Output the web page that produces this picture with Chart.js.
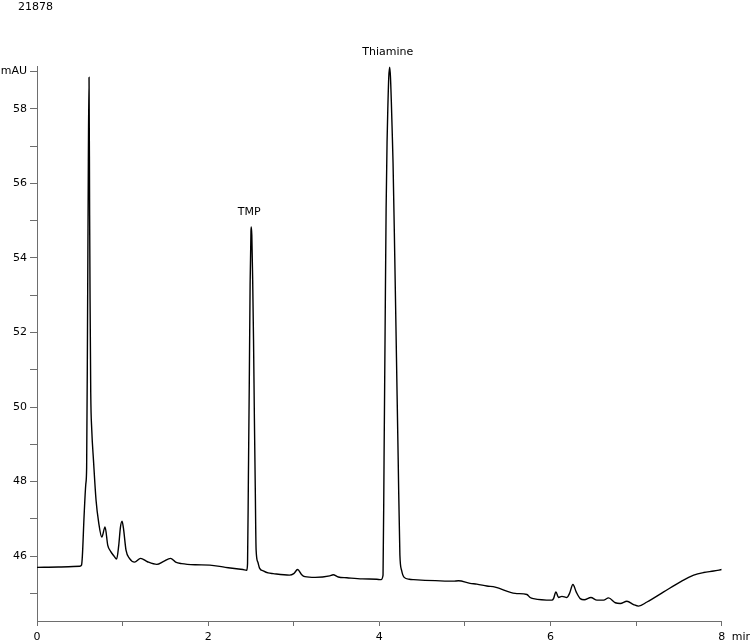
<!DOCTYPE html>
<html><head><meta charset="utf-8">
<script src="https://cdn.jsdelivr.net/npm/chart.js@4/dist/chart.umd.min.js"></script>
<style>html,body{margin:0;padding:0;background:#fff}canvas{display:block}</style>
</head><body>
<canvas id="c" width="750" height="643"></canvas>
<script>
const sampleId = '21878';
const timeMin = [
  0.00,0.25,0.50,0.52,0.53,0.55,0.57,0.58,0.59,0.60,0.608,0.615,0.62,0.628,0.64,0.66,0.69,0.72,0.757,0.795,
  0.827,0.86,0.90,0.93,0.955,0.975,0.994,1.01,1.04,1.08,1.14,1.21,1.29,1.40,1.48,1.56,1.62,1.69,1.85,2.02,
  2.20,2.406,2.45,2.46,2.47,2.48,2.49,2.50,2.503,2.51,2.52,2.53,2.54,2.55,2.56,2.58,2.60,2.65,2.70,2.76,
  2.95,3.00,3.045,3.09,3.13,3.25,3.42,3.46,3.52,3.62,3.80,3.97,4.02,4.043,4.055,4.067,4.079,4.09,4.10,4.11,
  4.121,4.13,4.14,4.15,4.16,4.18,4.20,4.22,4.24,4.26,4.29,4.35,4.40,4.865,4.924,5.06,5.139,5.256,5.353,5.587,
  5.724,5.762,5.801,6.016,6.035,6.063,6.094,6.133,6.192,6.222,6.262,6.30,6.347,6.394,6.472,6.543,6.62,6.678,6.757,6.815,
  6.893,6.971,7.029,7.127,7.322,7.517,7.673,7.789,7.906,8.00
];
const signalMAU = [
  45.70,45.71,45.73,45.76,46.00,47.07,47.93,48.38,52.06,56.60,58.85,55.14,52.90,50.37,49.38,48.57,47.50,46.91,46.51,46.78,
  46.29,46.13,46.00,45.92,46.29,46.78,46.94,46.75,46.16,45.94,45.84,45.94,45.85,45.78,45.86,45.94,45.84,45.80,45.77,45.76,
  45.70,45.64,45.62,45.80,48.13,50.55,53.30,54.70,54.83,54.60,53.40,51.80,49.70,47.88,46.17,45.84,45.68,45.60,45.55,45.53,
  45.49,45.53,45.64,45.51,45.45,45.43,45.47,45.50,45.44,45.42,45.39,45.38,45.37,45.49,48.60,52.00,55.30,57.10,58.10,58.85,
  59.12,58.85,58.20,57.40,56.55,54.04,51.33,48.60,46.03,45.62,45.43,45.38,45.37,45.33,45.34,45.27,45.25,45.20,45.17,45.00,
  44.97,44.89,44.86,44.82,44.86,45.04,44.89,44.92,44.89,45.00,45.24,45.04,44.86,44.83,44.89,44.82,44.82,44.88,44.75,44.73,
  44.79,44.70,44.66,44.77,45.04,45.31,45.49,45.56,45.60,45.64
];
const peakNames = ['TMP', 'Thiamine'];
const peakTimes = [2.503, 4.121];
const peakHeights = [54.83, 59.12];
const xTickValues = [0,1,2,3,4,5,6,7,8];
const xTickLabels = ['0','','2','','4','','6','','8'];
const yTickValues = [45,46,47,48,49,50,51,52,53,54,55,56,57,58,59];
const yTickLabels = ['','46','','48','','50','','52','','54','','56','','58','mAU'];
const xUnit = 'min';

const FONT = {family: '"DejaVu Sans", Verdana, sans-serif', size: 11};
const AXIS = '#6e6e6e';

const textPlugin = {
  id: 'texts',
  afterDraw(chart) {
    const ctx = chart.ctx;
    const xs = chart.scales.x, ys = chart.scales.y;
    ctx.save();
    ctx.fillStyle = '#000';
    ctx.font = '11px "DejaVu Sans", Verdana, sans-serif';
    ctx.textBaseline = 'alphabetic';
    ctx.textAlign = 'left';
    ctx.fillText(sampleId, 18, 9.5);
    ctx.textAlign = 'center';
    for (let i = 0; i < peakNames.length; i++) {
      ctx.fillText(peakNames[i], xs.getPixelForValue(peakTimes[i]) - 2, ys.getPixelForValue(peakHeights[i]) - 12.5);
    }
    ctx.textAlign = 'left';
    ctx.textBaseline = 'middle';
    ctx.fillText(xUnit, xs.getPixelForValue(8) + 10, xs.bottom - 5.5);
    ctx.restore();
  }
};

new Chart(document.getElementById('c'), {
  type: 'line',
  data: {
    datasets: [{
      data: timeMin.map((t, i) => ({x: t, y: signalMAU[i]})),
      borderColor: '#000',
      borderWidth: 1.4,
      pointRadius: 0,
      fill: false,
      cubicInterpolationMode: 'monotone',
      borderJoinStyle: 'round'
    }]
  },
  options: {
    responsive: false,
    animation: false,
    devicePixelRatio: 1,
    layout: {padding: {top: 66, right: 28.3, left: 0, bottom: 0}},
    plugins: {legend: {display: false}, tooltip: {enabled: false}, title: {display: false}},
    scales: {
      x: {
        type: 'linear', min: 0, max: 8,
        afterBuildTicks: s => { s.ticks = xTickValues.map(v => ({value: v})); },
        afterFit: s => { s.height = 22; },
        ticks: {
          autoSkip: false, maxRotation: 0, color: '#000', font: FONT, padding: 5,
          callback: v => xTickLabels[xTickValues.indexOf(v)]
        },
        grid: {drawOnChartArea: false, drawTicks: true, tickLength: 5, color: AXIS, tickColor: AXIS},
        border: {display: true, color: AXIS, width: 1}
      },
      y: {
        type: 'linear', min: 44.26, max: 59.15,
        afterBuildTicks: s => { s.ticks = yTickValues.map(v => ({value: v})); },
        afterFit: s => { s.width = 37; },
        ticks: {
          autoSkip: false, color: '#000', font: FONT, padding: 3,
          callback: v => yTickLabels[yTickValues.indexOf(v)]
        },
        grid: {drawOnChartArea: false, drawTicks: true, tickLength: 7, color: AXIS, tickColor: AXIS},
        border: {display: true, color: AXIS, width: 1}
      }
    }
  },
  plugins: [textPlugin]
});
</script>
</body></html>
